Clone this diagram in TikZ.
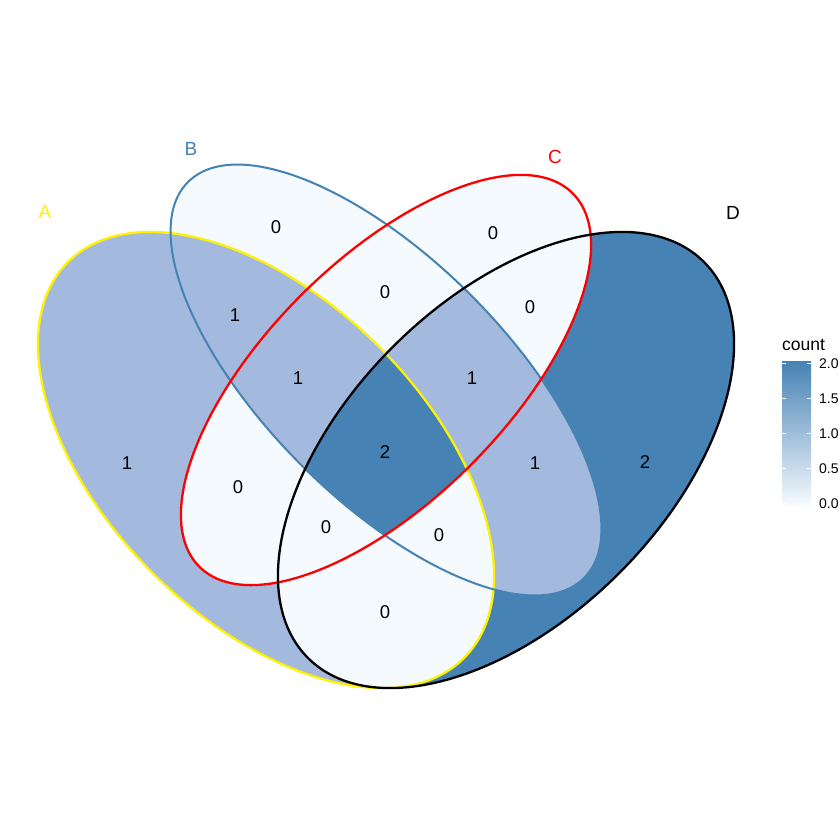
\documentclass[tikz,border=0pt]{standalone}
\usepackage{fontspec}
\setmainfont{Liberation Sans}
\definecolor{czero}{HTML}{F4FAFE}
\definecolor{cone}{HTML}{A4B9DE}
\definecolor{ctwo}{HTML}{4682B4}
\definecolor{setB}{HTML}{4682B4}
\def\shapeA{(266,460) ellipse [x radius=280, y radius=160]}
\def\shapeB{(386,380) ellipse [x radius=280, y radius=120]}
\def\shapeC{(386,380) ellipse [x radius=264, y radius=120]}
\def\shapeD{(506,460) ellipse [x radius=280, y radius=160]}
\tikzset{
  rotA/.style={rotate around={-45:(266,460)}},
  rotB/.style={rotate around={-45:(386,380)}},
  rotC/.style={rotate around={45:(386,380)}},
  rotD/.style={rotate around={45:(506,460)}},
  setline/.style={line width=2.3pt},
  countlabel/.style={font=\fontsize{18.5}{20}\selectfont, text=black, inner sep=0pt},
  setlabel/.style={font=\fontsize{19}{21}\selectfont, inner sep=0pt},
  ticklabel/.style={font=\fontsize{14}{16}\selectfont, anchor=west, inner sep=0pt},
  legtick/.style={white, line width=0.8pt}
}
\begin{document}
\begin{tikzpicture}[x=1pt,y=-1pt]
\useasboundingbox (0,0) rectangle (840,839);
\fill[white] (0,0) rectangle (840,839);
% single sets
\fill[cone, rotA] \shapeA;
\fill[czero, rotB] \shapeB;
\fill[czero, rotC] \shapeC;
\fill[ctwo, rotD] \shapeD;
% pairs
\begin{scope}\clip[rotA] \shapeA; \fill[cone, rotB] \shapeB; \end{scope}
\begin{scope}\clip[rotA] \shapeA; \fill[czero, rotC] \shapeC; \end{scope}
\begin{scope}\clip[rotA] \shapeA; \fill[czero, rotD] \shapeD; \end{scope}
\begin{scope}\clip[rotB] \shapeB; \fill[czero, rotC] \shapeC; \end{scope}
\begin{scope}\clip[rotB] \shapeB; \fill[cone, rotD] \shapeD; \end{scope}
\begin{scope}\clip[rotC] \shapeC; \fill[czero, rotD] \shapeD; \end{scope}
% triples
\begin{scope}\clip[rotA] \shapeA; \clip[rotB] \shapeB; \fill[cone, rotC] \shapeC; \end{scope}
\begin{scope}\clip[rotA] \shapeA; \clip[rotB] \shapeB; \fill[czero, rotD] \shapeD; \end{scope}
\begin{scope}\clip[rotA] \shapeA; \clip[rotC] \shapeC; \fill[czero, rotD] \shapeD; \end{scope}
\begin{scope}\clip[rotB] \shapeB; \clip[rotC] \shapeC; \fill[cone, rotD] \shapeD; \end{scope}
% quadruple
\begin{scope}\clip[rotA] \shapeA; \clip[rotB] \shapeB; \clip[rotC] \shapeC; \fill[ctwo, rotD] \shapeD; \end{scope}
% outlines
\draw[setline, yellow, rotA] \shapeA;
\draw[setline, setB, line width=2pt, rotB] \shapeB;
\draw[setline, red, rotC] \shapeC;
\draw[setline, black, rotD] \shapeD;
% set names
\node[setlabel, text=yellow] (nA) at (45,212) {A};
\node[setlabel, text=setB] (nB) at (191,149) {B};
\node[setlabel, text=red] (nC) at (555,157) {C};
\node[setlabel, text=black] (nD) at (733,213) {D};
% counts
\node[countlabel] (rA) at (127,463) {1};
\node[countlabel] (rB) at (276,227) {0};
\node[countlabel] (rC) at (493,233) {0};
\node[countlabel] (rD) at (645,462) {2};
\node[countlabel] (rAB) at (235,315) {1};
\node[countlabel] (rBC) at (385,292) {0};
\node[countlabel] (rCD) at (530,307) {0};
\node[countlabel] (rABC) at (298,378) {1};
\node[countlabel] (rBCD) at (472,378) {1};
\node[countlabel] (rABCD) at (385,452) {2};
\node[countlabel] (rAC) at (238,487) {0};
\node[countlabel] (rBD) at (535,463) {1};
\node[countlabel] (rACD) at (326,527) {0};
\node[countlabel] (rABD) at (439,535) {0};
\node[countlabel] (rAD) at (385,612) {0};
% legend
\node[font=\fontsize{17.5}{19}\selectfont, anchor=base west, inner sep=0pt] (legtitle) at (782,350) {count};
\shade[top color=ctwo, middle color=cone, bottom color=czero] (782,361) rectangle (811,504);
\foreach \yy in {363.3,398.3,433.3,468.3,503.3}{
  \draw[legtick] (782,\yy) -- (786,\yy);
  \draw[legtick] (806.5,\yy) -- (811,\yy);
}
\node[ticklabel] (t20) at (819,363.3) {2.0};
\node[ticklabel] (t15) at (819,398.3) {1.5};
\node[ticklabel] (t10) at (819,433.3) {1.0};
\node[ticklabel] (t05) at (819,468.3) {0.5};
\node[ticklabel] (t00) at (819,503.3) {0.0};
\end{tikzpicture}
\end{document}
